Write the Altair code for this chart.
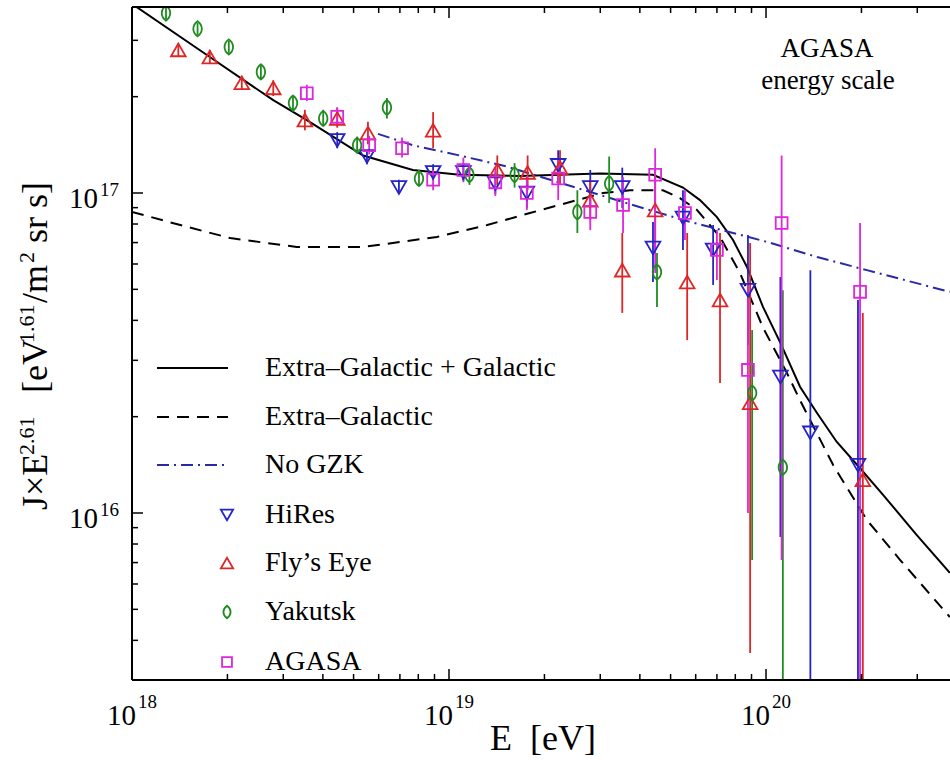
import altair as alt
import pandas as pd

SERIF = "Liberation Serif"
W, H = 818, 673
X_MIN, X_MAX = 1.0e18, 3.805e20
Y_MIN, Y_MAX = 3.007e15, 3.813e17
FLOOR = 1.0e15  # lower end of error bars that run off the bottom of the plot

# ---------------- model curves ----------------
egg_E = [1.00e18, 1.76e18, 2.79e18, 3.56e18, 5.36e18, 7.69e18, 1.08e19, 1.67e19, 2.99e19,
         4.40e19, 5.47e19, 6.19e19, 7.00e19, 7.87e19, 8.71e19, 9.79e19, 1.11e20, 1.28e20,
         1.45e20, 1.67e20, 1.98e20, 2.34e20, 2.99e20, 3.80e20]
egg_J = [3.90e17, 2.66e17, 1.95e17, 1.69e17, 1.31e17, 1.18e17, 1.14e17, 1.13e17, 1.15e17,
         1.14e17, 1.04e17, 9.50e16, 8.41e16, 7.13e16, 5.87e16, 4.40e16, 3.40e16, 2.48e16,
         2.05e16, 1.67e16, 1.38e16, 1.14e16, 8.53e15, 6.50e15]

eg_E = [1.00e18, 1.42e18, 2.04e18, 3.31e18, 5.36e18, 9.16e18, 1.32e19, 1.80e19, 2.41e19,
        3.06e19, 3.73e19, 4.73e19, 5.35e19, 6.06e19, 7.16e19, 8.28e19, 9.79e19, 1.16e20,
        1.28e20, 1.63e20, 2.08e20, 2.65e20, 3.80e20]
eg_J = [8.73e16, 7.94e16, 7.23e16, 6.78e16, 6.78e16, 7.29e16, 7.94e16, 8.66e16, 9.37e16,
        1.00e17, 1.02e17, 1.02e17, 9.64e16, 8.85e16, 7.29e16, 5.62e16, 3.79e16, 2.76e16,
        2.25e16, 1.41e16, 9.51e15, 7.13e15, 4.73e15]

nogzk_E = [5.97e18, 7.69e18, 1.08e19, 1.52e19, 2.99e19, 3.80e19, 5.47e19, 7.87e19, 1.01e20,
           1.45e20, 2.08e20, 3.80e20]
nogzk_J = [1.53e17, 1.41e17, 1.31e17, 1.21e17, 9.86e16, 9.17e16, 8.24e16, 7.50e16, 7.03e16,
           6.31e16, 5.74e16, 4.91e16]

# ---------------- data sets ----------------
hires_E = [4.44e18, 5.51e18, 6.95e18, 8.91e18, 1.11e19, 1.40e19, 1.76e19, 2.21e19, 2.79e19,
           3.52e19, 4.40e19, 5.47e19, 6.81e19, 8.77e19, 1.11e20, 1.38e20, 1.95e20]
hires_J = [1.46e17, 1.30e17, 1.04e17, 1.16e17, 1.16e17, 1.07e17, 1.00e17, 1.22e17, 1.04e17,
           1.04e17, 6.73e16, 8.35e16, 6.64e16, 4.97e16, 2.66e16, 1.78e16, 1.41e16]
hires_hi = [1.55e17, 1.36e17, 1.10e17, 1.23e17, 1.24e17, 1.16e17, 1.11e17, 1.36e17, 1.18e17,
            1.20e17, 8.12e16, 1.02e17, 7.94e16, 7.39e16, 5.46e16, 5.74e16, 4.63e16]
hires_lo = [1.38e17, 1.23e17, 9.93e16, 1.10e17, 1.09e17, 9.93e16, 8.98e16, 1.08e17, 9.17e16,
            8.98e16, 5.27e16, 6.64e16, 5.16e16, 3.35e16, 8.41e15, FLOOR, FLOOR]

fly_E = [1.40e18, 1.76e18, 2.22e18, 2.79e18, 3.51e18, 4.44e18, 5.55e18, 8.91e18, 1.42e19,
         1.77e19, 2.24e19, 2.79e19, 3.52e19, 4.47e19, 5.64e19, 7.16e19, 8.91e19, 2.02e20]
fly_J = [2.80e17, 2.66e17, 2.21e17, 2.13e17, 1.69e17, 1.71e17, 1.54e17, 1.57e17, 1.18e17,
         1.16e17, 1.20e17, 9.50e16, 5.74e16, 8.85e16, 5.27e16, 4.63e16, 2.21e16, 1.27e16]
fly_hi = [2.92e17, 2.80e17, 2.32e17, 2.25e17, 1.82e17, 1.85e17, 1.67e17, 1.79e17, 1.31e17,
          1.31e17, 1.36e17, 1.10e17, 7.50e16, 1.18e17, 7.50e16, 7.50e16, 6.98e16, 4.22e16]
fly_lo = [2.68e17, 2.53e17, 2.10e17, 2.01e17, 1.57e17, 1.60e17, 1.42e17, 1.38e17, 1.06e17,
          1.02e17, 1.06e17, 8.24e16, 4.22e16, 6.64e16, 3.47e16, 2.55e16, 3.65e15, FLOOR]

yak_E = [1.28e18, 1.61e18, 2.02e18, 2.55e18, 3.22e18, 4.01e18, 5.13e18, 6.37e18, 8.04e18,
         1.16e19, 1.61e19, 2.54e19, 3.20e19, 4.53e19, 9.04e19, 1.13e20]
yak_J = [3.65e17, 3.26e17, 2.86e17, 2.39e17, 1.91e17, 1.71e17, 1.41e17, 1.85e17, 1.11e17,
         1.14e17, 1.14e17, 8.73e16, 1.07e17, 5.66e16, 2.37e16, 1.39e16]
yak_hi = [3.81e17, 3.40e17, 2.99e17, 2.51e17, 2.02e17, 1.82e17, 1.50e17, 1.98e17, 1.18e17,
          1.22e17, 1.24e17, 1.02e17, 1.30e17, 6.49e16, 3.73e16, 4.97e16]
yak_lo = [3.50e17, 3.12e17, 2.74e17, 2.27e17, 1.80e17, 1.62e17, 1.33e17, 1.71e17, 1.05e17,
          1.06e17, 1.04e17, 7.50e16, 9.31e16, 4.40e16, 7.13e15, FLOOR]

agasa_E = [3.56e18, 4.44e18, 5.60e18, 7.11e18, 8.91e18, 1.11e19, 1.40e19, 1.76e19, 2.21e19,
           2.79e19, 3.54e19, 4.47e19, 5.55e19, 7.00e19, 8.77e19, 1.12e20, 1.98e20]
agasa_J = [2.05e17, 1.73e17, 1.41e17, 1.38e17, 1.10e17, 1.18e17, 1.08e17, 1.00e17, 1.11e17,
           8.73e16, 9.17e16, 1.14e17, 8.66e16, 6.64e16, 2.80e16, 8.06e16, 4.91e16]
agasa_hi = [2.18e17, 1.85e17, 1.51e17, 1.49e17, 1.18e17, 1.29e17, 1.20e17, 1.13e17, 1.27e17,
            9.86e16, 1.12e17, 1.38e17, 1.02e17, 7.66e16, 5.27e16, 1.31e17, 8.06e16]
agasa_lo = [1.94e17, 1.62e17, 1.32e17, 1.29e17, 1.02e17, 1.08e17, 9.79e16, 8.85e16, 9.50e16,
            7.66e16, 7.50e16, 5.62e16, 7.13e16, 5.35e16, 1.00e16, 7.13e15, FLOOR]

# ---------------- axis ticks ----------------
x_major = [1e18, 1e19, 1e20]
x_exp = ["18", "19", "20"]
x_minor = [2e18, 3e18, 4e18, 5e18, 6e18, 7e18, 8e18, 9e18,
           2e19, 3e19, 4e19, 5e19, 6e19, 7e19, 8e19, 9e19, 2e20, 3e20]
y_major = [1e16, 1e17]
y_exp = ["16", "17"]
y_minor = [4e15, 5e15, 6e15, 7e15, 8e15, 9e15,
           2e16, 3e16, 4e16, 5e16, 6e16, 7e16, 8e16, 9e16, 2e17, 3e17]

legend_labels = ["Extra\u2013Galactic + Galactic", "Extra\u2013Galactic", "No GZK",
                 "HiRes", "Fly\u2019s Eye", "Yakutsk", "AGASA"]

C_HIRES = "#2323c8"
C_FLY = "#dd2626"
C_YAK = "#1e8c1e"
C_AGASA = "#dd26dd"
C_NOGZK = "#2a2aa6"
YAK_SHAPE = "M0,-1 C0.75,-0.45 0.75,0.45 0,1 C-0.75,0.45 -0.75,-0.45 0,-1 Z"

xs = alt.Scale(type="log", domain=[X_MIN, X_MAX], nice=False)
ys = alt.Scale(type="log", domain=[Y_MIN, Y_MAX], nice=False)


def X(f="E"):
    return alt.X(f"{f}:Q", scale=xs, axis=None)


def Y(f="J"):
    return alt.Y(f"{f}:Q", scale=ys, axis=None)


def curve(E, J, color, width, dash=None):
    df = pd.DataFrame({"E": E, "J": J, "i": list(range(len(E)))})
    kw = dict(color=color, strokeWidth=width, clip=True)
    if dash:
        kw["strokeDash"] = dash
    return alt.Chart(df).mark_line(**kw).encode(x=X(), y=Y(), order="i:Q")


def errbars(E, lo, hi, color):
    df = pd.DataFrame({"E": E, "lo": lo, "hi": hi})
    return alt.Chart(df).mark_rule(color=color, strokeWidth=1.8, clip=True).encode(
        x=X(), y=Y("lo"), y2="hi:Q")


def points(E, J, color, shape, size):
    df = pd.DataFrame({"E": E, "J": J})
    return alt.Chart(df).mark_point(shape=shape, filled=False, color=color, size=size,
                                    strokeWidth=1.8, opacity=1, clip=True).encode(x=X(), y=Y())


one = pd.DataFrame({"a": [0]})
layers = []

layers.append(curve(egg_E, egg_J, "black", 2))
layers.append(curve(eg_E, eg_J, "black", 2, [12, 8]))
layers.append(curve(nogzk_E, nogzk_J, C_NOGZK, 2, [12, 5, 2, 5]))

sets = [
    (hires_E, hires_J, hires_lo, hires_hi, C_HIRES, "triangle-down", 215),
    (fly_E, fly_J, fly_lo, fly_hi, C_FLY, "triangle-up", 215),
    (yak_E, yak_J, yak_lo, yak_hi, C_YAK, YAK_SHAPE, 230),
    (agasa_E, agasa_J, agasa_lo, agasa_hi, C_AGASA, "square", 140),
]
for E, J, lo, hi, c, shp, sz in sets:
    layers.append(errbars(E, lo, hi, c))
for E, J, lo, hi, c, shp, sz in sets:
    layers.append(points(E, J, c, shp, sz))

# ---------------- legend ----------------
leg_y = [361, 410, 458, 508, 556, 605, 655]
layers.append(alt.Chart(one).mark_rule(color="black", strokeWidth=2).encode(
    x=alt.value(25), x2=alt.value(96), y=alt.value(leg_y[0])))
layers.append(alt.Chart(one).mark_rule(color="black", strokeWidth=2, strokeDash=[12, 8]).encode(
    x=alt.value(25), x2=alt.value(96), y=alt.value(leg_y[1])))
layers.append(alt.Chart(one).mark_rule(color=C_NOGZK, strokeWidth=2, strokeDash=[12, 5, 2, 5]).encode(
    x=alt.value(25), x2=alt.value(96), y=alt.value(leg_y[2])))
for k, (E, J, lo, hi, c, shp, sz) in enumerate(sets):
    layers.append(alt.Chart(one).mark_point(shape=shp, filled=False, color=c, size=sz * 0.7,
                                            strokeWidth=1.8, opacity=1).encode(
        x=alt.value(95), y=alt.value(leg_y[3 + k])))
for lab, yy in zip(legend_labels, leg_y):
    layers.append(alt.Chart(one).mark_text(text=lab, font=SERIF, fontSize=28, align="left",
                                           baseline="middle", color="black").encode(
        x=alt.value(133), y=alt.value(yy)))

# annotation
layers.append(alt.Chart(one).mark_text(text="AGASA", font=SERIF, fontSize=27, align="center",
                                       baseline="alphabetic", color="black").encode(
    x=alt.value(695), y=alt.value(50)))
layers.append(alt.Chart(one).mark_text(text="energy scale", font=SERIF, fontSize=27, align="center",
                                       baseline="alphabetic", color="black").encode(
    x=alt.value(696), y=alt.value(82)))

# ---------------- frame and ticks ----------------
frame_kw = dict(color="black", strokeWidth=2)
layers.append(alt.Chart(one).mark_rule(**frame_kw).encode(x=alt.value(0), y=alt.value(0), y2=alt.value(H)))
layers.append(alt.Chart(one).mark_rule(**frame_kw).encode(x=alt.value(0), x2=alt.value(W), y=alt.value(H)))
layers.append(alt.Chart(one).mark_rule(**frame_kw).encode(x=alt.value(0), x2=alt.value(W), y=alt.value(0)))

xmaj = pd.DataFrame({"v": x_major, "exp": x_exp})
xmin = pd.DataFrame({"v": x_minor})
ymaj = pd.DataFrame({"v": y_major, "exp": y_exp})
ymin = pd.DataFrame({"v": y_minor})
tick_kw = dict(color="black", strokeWidth=1.5)
for df, ln in [(xmaj, 11), (xmin, 6)]:
    layers.append(alt.Chart(df).mark_rule(**tick_kw).encode(x=X("v"), y=alt.value(H), y2=alt.value(H - ln)))
    layers.append(alt.Chart(df).mark_rule(**tick_kw).encode(x=X("v"), y=alt.value(0), y2=alt.value(ln)))
for df, ln in [(ymaj, 11), (ymin, 6)]:
    layers.append(alt.Chart(df).mark_rule(**tick_kw).encode(y=Y("v"), x=alt.value(0), x2=alt.value(ln)))

# tick labels 10^n
layers.append(alt.Chart(xmaj).mark_text(text="10", font=SERIF, fontSize=29, align="right",
                                        baseline="alphabetic", dx=4, color="black").encode(
    x=X("v"), y=alt.value(718)))
layers.append(alt.Chart(xmaj).mark_text(font=SERIF, fontSize=19, align="left",
                                        baseline="alphabetic", dx=6, color="black").encode(
    x=X("v"), y=alt.value(701), text="exp:N"))
layers.append(alt.Chart(ymaj).mark_text(text="10", font=SERIF, fontSize=29, align="right",
                                        baseline="middle", dy=6, color="black").encode(
    y=Y("v"), x=alt.value(-34)))
layers.append(alt.Chart(ymaj).mark_text(font=SERIF, fontSize=19, align="left",
                                        baseline="middle", dy=-3, color="black").encode(
    y=Y("v"), x=alt.value(-32), text="exp:N"))

# axis titles
layers.append(alt.Chart(one).mark_text(text="E\u00a0\u00a0[eV]", font=SERIF, fontSize=36, align="center",
                                       baseline="alphabetic", color="black").encode(
    x=alt.value(411), y=alt.value(743)))

ytitle_parts = [("J\u00d7E", 36, 0, 0), ("2.61", 22, 55, -13), ("[eV", 36, 117, 0),
                ("1.61", 22, 167, -13), ("/m", 36, 207, 0), ("2", 22, 247, -13),
                ("sr s]", 36, 267, 0)]
for txt, fs, off, rise in ytitle_parts:
    layers.append(alt.Chart(one).mark_text(text=txt, font=SERIF, fontSize=fs, align="left",
                                           baseline="alphabetic", angle=270, dx=off, dy=rise,
                                           color="black").encode(
        x=alt.value(-85), y=alt.value(503)))

chart = alt.layer(*layers).properties(
    width=W, height=H,
    autosize=alt.AutoSizeParams(type="none"),
    padding={"left": 132, "top": 7, "right": 0, "bottom": 80},
    background="white",
).configure_view(stroke=None)

chart.save("out.html", embed_options={"renderer": "svg", "actions": False})
